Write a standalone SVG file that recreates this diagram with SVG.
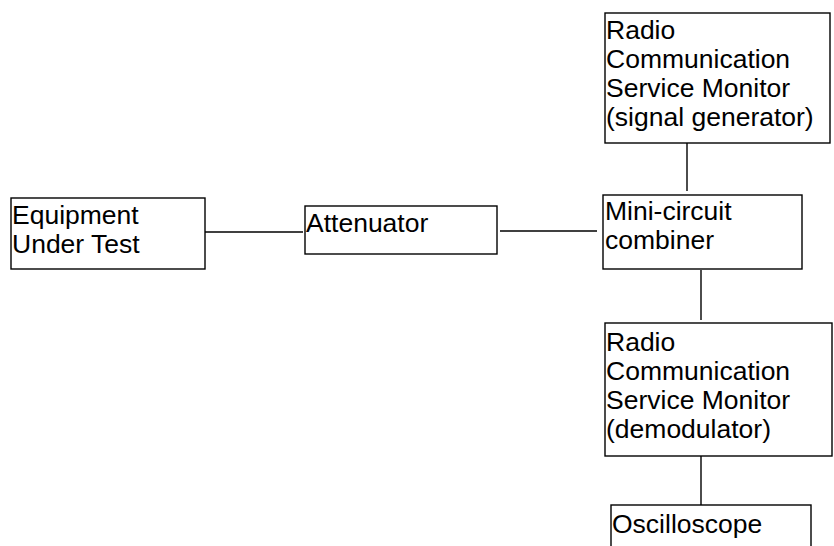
<svg xmlns="http://www.w3.org/2000/svg" width="834" height="546" viewBox="0 0 834 546">
<style>
.box{fill:#fff;stroke:#000;stroke-width:1.4}
.ln{stroke:#000;stroke-width:1.4;fill:none}
text{font-family:"Liberation Sans",Arial,sans-serif;font-size:26.5px;fill:#000}
</style>
<rect width="834" height="546" fill="#fff"/>
<g id="connectors">
<line class="ln" x1="205" y1="232" x2="303" y2="232"/>
<line class="ln" x1="500" y1="231" x2="597" y2="231"/>
<line class="ln" x1="687" y1="143" x2="687" y2="191"/>
<line class="ln" x1="701" y1="270" x2="701" y2="320"/>
<line class="ln" x1="701" y1="456" x2="701" y2="505"/>
</g>
<g id="eut">
<rect class="box" x="11" y="198" width="194" height="71"/>
<text x="12" y="224">Equipment</text>
<text x="12" y="253">Under Test</text>
</g>
<g id="attenuator">
<rect class="box" x="305" y="206" width="192" height="48"/>
<text x="306" y="232">Attenuator</text>
</g>
<g id="combiner">
<rect class="box" x="603" y="195" width="199" height="74"/>
<text x="605" y="220">Mini-circuit</text>
<text x="605" y="249">combiner</text>
</g>
<g id="siggen">
<rect class="box" x="605" y="13" width="225" height="130"/>
<text x="606" y="39">Radio</text>
<text x="606" y="68">Communication</text>
<text x="606" y="97">Service Monitor</text>
<text x="606" y="126">(signal generator)</text>
</g>
<g id="demod">
<rect class="box" x="605" y="323" width="227" height="133"/>
<text x="606" y="351">Radio</text>
<text x="606" y="380">Communication</text>
<text x="606" y="409">Service Monitor</text>
<text x="606" y="438">(demodulator)</text>
</g>
<g id="oscilloscope">
<rect class="box" x="611" y="505" width="200" height="60"/>
<text x="612" y="533">Oscilloscope</text>
</g>
</svg>
